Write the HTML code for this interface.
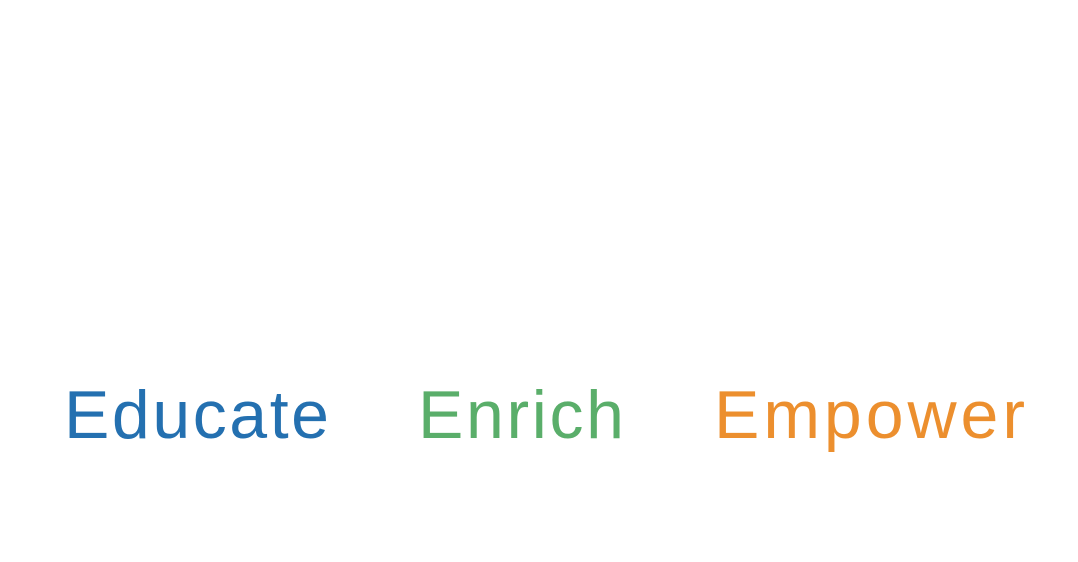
<!DOCTYPE html>
<html>
<head>
<meta charset="utf-8">
<style>
  html, body { margin: 0; padding: 0; background: #ffffff; }
  svg { display: block; }
  text { font-family: "Liberation Sans", "DejaVu Sans", sans-serif; font-size: 68px; }
</style>
</head>
<body>
<svg width="1078" height="562" viewBox="0 0 1078 562">
  <rect x="0" y="0" width="1078" height="562" fill="#ffffff"/>
  <text x="64" y="438" textLength="265" lengthAdjust="spacing" fill="#2470b0">Educate</text>
  <text x="418" y="438" textLength="206" lengthAdjust="spacing" fill="#5aae6a">Enrich</text>
  <text x="714" y="438" textLength="311" lengthAdjust="spacing" fill="#ec8f2e">Empower</text>
</svg>
</body>
</html>
